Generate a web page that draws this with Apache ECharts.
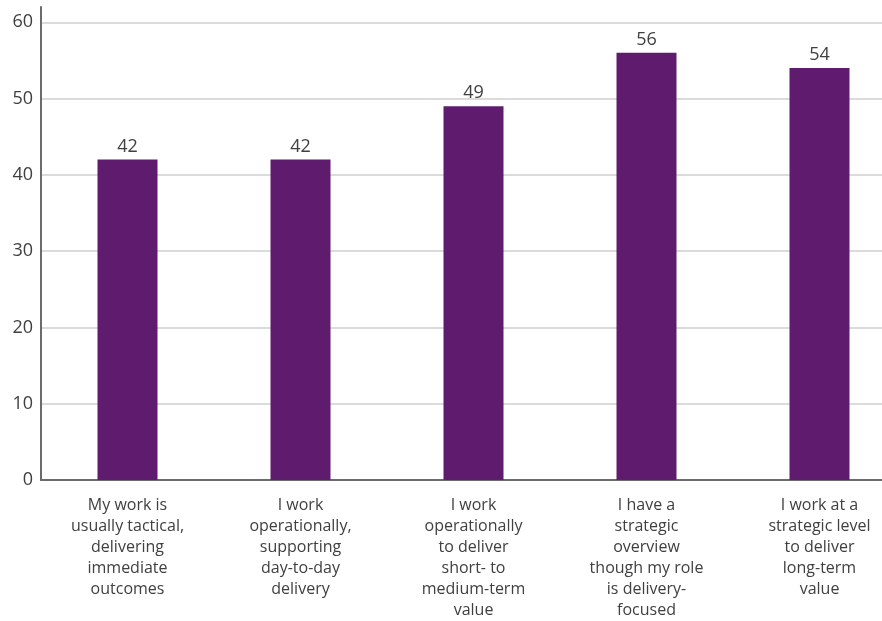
<!DOCTYPE html>
<html>
<head>
<meta charset="utf-8">
<script src="https://cdn.jsdelivr.net/npm/echarts@6/dist/echarts.min.js"></script>
<style>
  html, body { margin: 0; padding: 0; background: #fff; overflow: hidden; width: 882px; height: 621px; }
  /* the plot runs a little past the right edge of the page */
  #chart { width: 906px; height: 621px; }
</style>
</head>
<body>
<div id="chart"></div>
<script>
// Categories (line breaks as wrapped under each bar)
const categories = [
  'My work is\nusually tactical,\ndelivering\nimmediate\noutcomes',
  'I work\noperationally,\nsupporting\nday-to-day\ndelivery',
  'I work\noperationally\nto deliver\nshort- to\nmedium-term\nvalue',
  'I have a\nstrategic\noverview\nthough my role\nis delivery-\nfocused',
  'I work at a\nstrategic level\nto deliver\nlong-term\nvalue'
];
const values = [42, 42, 49, 56, 54];
const yTicks = [0, 10, 20, 30, 40, 50, 60];

const FONT = '"Open Sans", sans-serif';
const TEXT = '#404040';

const chart = echarts.init(document.getElementById('chart'), null, { renderer: 'canvas' });
chart.setOption({
  animation: false,
  grid: { left: 41, right: 0, top: 7, bottom: 139, containLabel: false },
  xAxis: {
    type: 'category',
    data: categories,
    axisLine: { lineStyle: { color: '#6b6b6b', width: 2 } },
    axisTick: { show: false },
    axisLabel: {
      interval: 0,
      margin: 15,
      color: TEXT,
      fontFamily: FONT,
      fontSize: 16,
      lineHeight: 21,
      align: 'center'
    }
  },
  yAxis: {
    type: 'value',
    min: 0,
    max: 62,
    interval: 10,
    axisLine: { show: true, lineStyle: { color: '#6b6b6b', width: 2 } },
    axisTick: { show: false },
    axisLabel: {
      showMaxLabel: false,
      margin: 8,
      color: TEXT,
      fontFamily: FONT,
      fontSize: 18,
      formatter: v => (yTicks.indexOf(v) >= 0 ? String(v) : '')
    },
    splitLine: { show: true, showMaxLine: false, lineStyle: { color: '#cfcfcf', width: 1.5 } }
  },
  series: [{
    type: 'bar',
    data: values,
    barWidth: 60,
    itemStyle: { color: '#5f1c6e' },
    label: {
      show: true,
      position: 'top',
      distance: 4,
      color: TEXT,
      fontFamily: FONT,
      fontSize: 18
    }
  }]
});
</script>
</body>
</html>
